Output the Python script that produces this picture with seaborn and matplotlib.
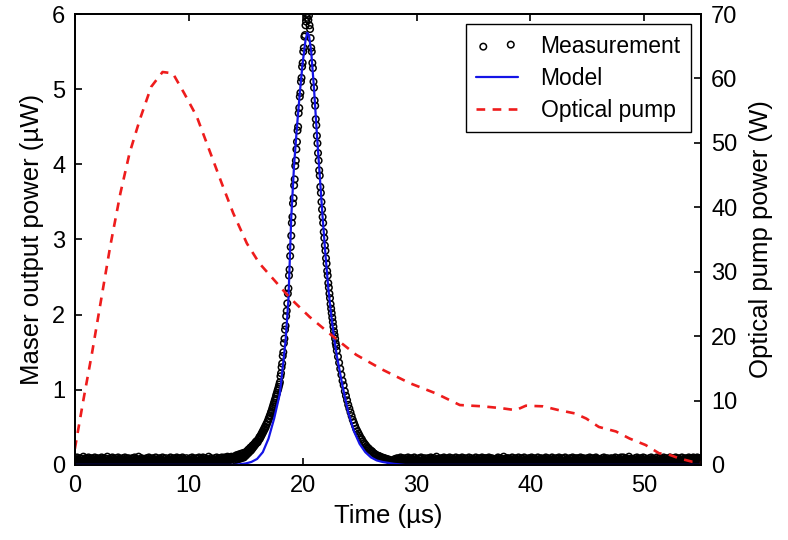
import matplotlib.pyplot as plt
import numpy as np
import seaborn as sns

base_left = [  # 0 .. 13.95 us
    .04, .08, .02, .06, .10, .03, .07, .01, .05, .09, .04, .06, .02, .08, .05, .11, .03, .07, .04, .09,
    .02, .06, .08, .03, .10, .05, .01, .07, .04, .09, .06, .02, .08, .05, .03, .10, .07, .04, .06, .01,
    .09, .05, .03, .07, .02, .08, .06, .10, .04, .01, .07, .05, .09, .03, .06, .02, .08, .11, .04, .06,
    .03, .07, .05, .09, .01, .06, .10, .04, .08, .02, .05, .07, .03, .09, .06, .04, .10, .02, .07, .05,
    .08, .04, .06, .02, .09, .05, .03, .07, .10, .04, .06, .01, .08, .05, .09, .03, .07, .04, .02, .08,
    .05, .09, .03, .06, .04, .10, .07, .02, .05, .08, .03, .06, .11, .04, .07, .01, .05, .09, .06, .03,
    .07, .02, .08, .05, .03, .06, .09, .04, .07, .01, .10, .05, .03, .08, .04, .06, .02, .09, .05, .07,
    .04, .06, .10, .03, .07, .05, .02, .08, .06, .09, .04, .01, .07, .05, .10, .03, .06, .08, .02, .05,
    .09, .03, .05, .07, .02, .08, .04, .06, .10, .05, .03, .07, .01, .09, .06, .04, .08, .02, .06, .10,
    .03, .08, .06, .04, .09, .01, .07, .05, .03, .10, .06, .08, .04, .02, .07, .05, .09, .03, .06, .04,
    .07, .05, .02, .09, .06, .04, .10, .03, .08, .05, .01, .07, .06, .09, .04, .02, .08, .05, .10, .03,
    .06, .04, .08, .02, .07, .10, .05, .03, .09, .06, .04, .08, .02, .05, .07, .11, .03, .06, .04, .09,
    .05, .08, .03, .07, .04, .06, .09, .02, .05, .10, .07, .03, .08, .06, .04, .09, .05, .07, .10, .06,
    .08, .05, .07, .10, .06, .09, .04, .08, .11, .07, .09, .06, .10, .08, .07, .11, .09, .08, .10, .09]
foot_left = [  # 14.0 .. 17.95 us
    .10, .06, .12, .08, .13, .07, .11, .09, .14, .08, .12, .10, .15, .09, .13, .11, .16, .10, .14, .12,
    .17, .13, .18, .15, .20, .16, .21, .18, .23, .19, .24, .21, .26, .23, .27, .25, .29, .27, .31, .29,
    .32, .30, .34, .33, .37, .35, .39, .38, .42, .41, .45, .44, .48, .47, .51, .50, .54, .54, .57, .58,
    .61, .62, .65, .66, .69, .71, .73, .76, .78, .81, .83, .86, .88, .91, .94, .96, .99, 1.01, 1.04, 1.07]
peak = [  # 18.0 .. 22.95 us
    1.10, 1.18, 1.22, 1.30, 1.35, 1.45, 1.50, 1.62, 1.68, 1.80,
    1.85, 1.98, 2.05, 2.15, 2.28, 2.35, 2.52, 2.60, 2.78, 2.90,
    3.05, 3.22, 3.30, 3.48, 3.55, 3.72, 3.80, 3.98, 4.05, 4.20,
    4.30, 4.45, 4.50, 4.68, 4.75, 4.90, 4.95, 5.10, 5.15, 5.30,
    5.35, 5.50, 5.55, 5.70, 5.72, 5.85, 5.90, 6.00, 5.95, 6.05,
    5.92, 5.98, 5.85, 5.80, 5.68, 5.55, 5.50, 5.35, 5.28, 5.10,
    5.02, 4.85, 4.78, 4.60, 4.52, 4.38, 4.28, 4.15, 4.05, 3.92,
    3.85, 3.70, 3.62, 3.50, 3.40, 3.30, 3.22, 3.10, 3.02, 2.92,
    2.85, 2.75, 2.68, 2.58, 2.52, 2.42, 2.36, 2.28, 2.22, 2.14,
    2.08, 2.02, 1.96, 1.90, 1.84, 1.78, 1.73, 1.68, 1.62, 1.58]
tail_right = [  # 23.0 .. 27.9 us
    1.52, 1.44, 1.36, 1.28, 1.20, 1.12, 1.06, 0.98, 0.92, 0.86,
    0.80, 0.75, 0.70, 0.65, 0.60, 0.56, 0.52, 0.48, 0.45, 0.42,
    0.39, 0.36, 0.34, 0.31, 0.29, 0.27, 0.25, 0.23, 0.22, 0.20,
    0.19, 0.18, 0.16, 0.15, 0.14, 0.13, 0.12, 0.12, 0.11, 0.10,
    0.10, 0.09, 0.09, 0.08, 0.08, 0.07, 0.07, 0.06, 0.06, 0.05]
base_right = [  # 28.0 .. 55.0 us
    .06, .04, .08, .05, .03, .07, .09, .04, .06, .02, .08, .05, .10, .03, .07, .04, .06, .09, .02, .05,
    .07, .03, .09, .06, .04, .10, .01, .05, .08, .03, .06, .09, .04, .07, .02, .05, .10, .06, .03, .08,
    .04, .07, .02, .06, .09, .05, .03, .08, .10, .04, .06, .01, .07, .05, .09, .03, .06, .08, .04, .02,
    .09, .05, .07, .03, .06, .10, .04, .08, .02, .05, .07, .09, .03, .06, .04, .11, .05, .02, .08, .06,
    .03, .08, .05, .09, .01, .06, .04, .07, .10, .03, .08, .05, .02, .07, .09, .04, .06, .03, .10, .05,
    .06, .02, .09, .04, .07, .05, .08, .03, .06, .10, .04, .07, .01, .05, .09, .06, .03, .08, .04, .07,
    .10, .05, .03, .07, .04, .09, .06, .02, .08, .05, .03, .06, .10, .04, .07, .02, .09, .05, .06, .03,
    .05, .08, .06, .02, .10, .04, .07, .05, .03, .09, .06, .01, .08, .04, .06, .10, .03, .07, .05, .09,
    .02, .06, .09, .05, .03, .08, .04, .10, .06, .02, .07, .05, .09, .03, .06, .04, .08, .01, .07, .05,
    .08, .04, .06, .10, .03, .07, .05, .09, .02, .06, .04, .08, .05, .11, .03, .07, .06, .04, .09, .02,
    .05, .09, .03, .06, .08, .01, .07, .04, .10, .05, .03, .08, .06, .02, .09, .05, .07, .03, .06, .10,
    .04, .07, .05, .02, .09, .06, .03, .08, .05, .10, .04, .07, .02, .06, .08, .04, .05, .09, .03, .07,
    .06, .03, .10, .05, .07, .04, .09, .02, .06, .08, .05, .03, .07, .10, .04, .06, .01, .08, .05, .09,
    .03, .07, .04, .08, .06, .02, .05, .10, .07, .03, .09, .06, .04, .08, .02, .05, .07, .03, .10, .06,
    .08, .05, .02, .07, .04, .09, .06, .03, .08, .05, .10, .04, .07, .01, .06, .09, .05, .03, .08, .04,
    .05, .10, .06, .03, .08, .05, .02, .07, .04, .09, .06, .03, .08, .05, .10, .04, .06, .02, .07, .09,
    .07, .03, .05, .09, .02, .06, .08, .04, .10, .06, .03, .07, .05, .09, .04, .01, .08, .06, .03, .05,
    .09, .06, .04, .07, .10, .03, .05, .08, .02, .06, .09, .04, .07, .03, .05, .10, .06, .08, .04, .02,
    .04, .08, .06, .02, .07, .05, .09, .03, .06, .10, .04, .08, .05, .02, .07, .09, .03, .06, .04, .08,
    .06, .03, .09, .05, .04, .08, .01, .07, .05, .10, .03, .06, .09, .04, .07, .05, .02, .08, .06, .10,
    .03, .07, .05, .10, .06, .02, .08, .04, .09, .05, .07, .03, .06, .11, .04, .08, .05, .02, .07, .05,
    .08, .04, .07, .03, .09, .06, .05, .10, .02, .07, .04, .08, .06, .03, .09, .05, .07, .04, .10, .06,
    .05, .09, .03, .06, .04, .08, .07, .02, .05, .09, .06, .04, .10, .07, .03, .06, .08, .05, .02, .07,
    .07, .04, .10, .05, .08, .03, .06, .09, .04, .07, .02, .05, .08, .06, .10, .04, .07, .03, .09, .05,
    .04, .06, .08, .03, .07, .10, .05, .02, .08, .06, .04, .09, .03, .07, .05, .10, .06, .08, .04, .06,
    .09, .05, .07, .04, .06, .03, .10, .07, .05, .08, .04, .06, .09, .03, .07, .05, .08, .06, .10, .04,
    .06, .08, .05, .09, .07, .04, .10, .06, .08, .05, .09, .07, .06, .10, .08, .05, .09, .07, .06, .08, .07]

# model fit (uW)
model_t = [0, 14.0, 14.5, 15.0, 15.5, 16.0, 16.5, 17.0, 17.5, 18.0,
           18.5, 18.75, 19.0, 19.25, 19.5, 19.75, 20.0, 20.25, 20.4, 20.55,
           20.75, 21.0, 21.25, 21.5, 21.75, 22.0, 22.25, 22.5, 22.75, 23.0,
           23.25, 23.5, 24.0, 24.5, 25.0, 25.5, 26.0, 26.5, 27.0, 28.0,
           29.0, 55.0]
model_p = [0, 0, 0.01, 0.02, 0.04, 0.08, 0.17, 0.35, 0.62, 0.95,
           1.65, 2.2, 3.3, 4.0, 4.5, 4.95, 5.35, 5.65, 5.75, 5.72,
           5.5, 5.0, 4.4, 3.85, 3.3, 2.8, 2.35, 2.0, 1.7, 1.45,
           1.25, 1.05, 0.7, 0.45, 0.28, 0.17, 0.1, 0.06, 0.04, 0.015,
           0, 0]

# optical pump (W)
pump_t = [0, 0.75, 1.5, 2.3, 3.1, 4.0, 4.8, 5.7, 6.7, 7.7,
          8.6, 9.6, 10.7, 11.8, 12.9, 13.9, 15.1, 16.2, 17.1, 18.9,
          20.6, 22.7, 24.7, 27.0, 29.4, 31.7, 33.8, 35.8, 37.5, 38.7,
          39.6, 41.1, 42.5, 43.9, 44.9, 46.0, 47.5, 48.7, 50.1, 51.3,
          52.0, 53.1, 54.2, 55.0]
pump_w = [2.5, 10.1, 17.3, 25.6, 33.9, 42.2, 48.4, 53.6, 58.7, 61.0,
          60.8, 57.7, 54.1, 48.9, 43.7, 39.1, 34.4, 31.3, 29.5, 25.9,
          23.0, 19.9, 17.1, 14.8, 12.7, 11.1, 9.3, 9.1, 8.8, 8.5,
          9.2, 9.1, 8.5, 8.0, 7.2, 5.9, 5.2, 4.1, 3.1, 1.8,
          1.7, 1.0, 0.5, 0.4]

meas_t = np.concatenate([
    np.linspace(0, 13.95, len(base_left)),
    np.linspace(14.0, 17.95, len(foot_left)),
    np.linspace(18.0, 22.95, len(peak)),
    np.linspace(23.0, 27.9, len(tail_right)),
    np.linspace(28.0, 55.0, len(base_right)),
])
meas_p = np.concatenate([base_left, foot_left, peak, tail_right, base_right])

sns.set_style("ticks")
plt.rcParams['font.family'] = ['Liberation Sans', 'DejaVu Sans']
plt.rcParams['axes.linewidth'] = 1.3
for key in ['text.color', 'axes.labelcolor', 'xtick.color', 'ytick.color', 'axes.edgecolor']:
    plt.rcParams[key] = 'black'

fig, ax = plt.subplots(figsize=(7.88, 5.4), dpi=100)
fig.subplots_adjust(left=0.095, right=0.89, bottom=0.139, top=0.974)

sns.scatterplot(x=meas_t, y=meas_p, ax=ax, marker='o', s=22, color='black',
                facecolor='none', edgecolor='black', linewidth=1.1,
                label='Measurement', legend=False, zorder=2)
sns.lineplot(x=model_t, y=model_p, ax=ax, color='#1414e6', linewidth=1.6,
             sort=False, label='Model', legend=False, zorder=3)

ax.set_xlim(0, 55)
ax.set_ylim(0, 6)
ax.set_xticks([0, 10, 20, 30, 40, 50])
ax.set_yticks(range(0, 7))
ax.set_xlabel('Time (µs)', fontsize=18.5, labelpad=5)
ax.set_ylabel('Maser output power (µW)', fontsize=18.5, labelpad=6)
ax.tick_params(direction='in', length=5, width=1.2, top=True, right=False,
               labelsize=17, pad=7)

ax2 = ax.twinx()
sns.lineplot(x=pump_t, y=pump_w, ax=ax2, color='#ee1c1c', linewidth=1.9,
             sort=False, label='Optical pump', legend=False)
ax2.lines[0].set_dashes([3.3, 2.8])
ax2.set_ylim(0, 70)
ax2.set_yticks(range(0, 71, 10))
ax2.set_ylabel('Optical pump power (W)', fontsize=18.5, labelpad=8)
ax2.tick_params(direction='in', length=5, width=1.2, labelsize=17, pad=7)

h1, l1 = ax.get_legend_handles_labels()
h2, l2 = ax2.get_legend_handles_labels()
leg = ax2.legend(h1 + h2, l1 + l2, loc='upper right', scatterpoints=2,
                 frameon=True, fancybox=False, edgecolor='black', framealpha=1,
                 handlelength=1.8, handletextpad=1.0, labelspacing=0.4,
                 borderpad=0.45, borderaxespad=0.45, fontsize=16.5)
leg.get_frame().set_linewidth(1.0)

fig.savefig('out.png', dpi=100)
